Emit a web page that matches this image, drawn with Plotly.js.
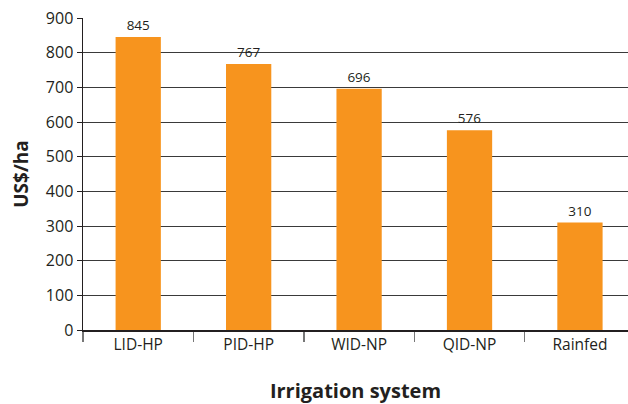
<!DOCTYPE html>
<html><head><meta charset="utf-8">
<script src="https://cdn.plot.ly/plotly-3.0.1.min.js"></script>
<style>html,body{margin:0;padding:0;background:#fff;}#chart{width:628px;height:404px;}</style>
</head><body><div id="chart"></div>
<script>
const categories = ["LID-HP", "PID-HP", "WID-NP", "QID-NP", "Rainfed"];
const values = [845, 767, 696, 576, 310];
const yTicks = [0, 100, 200, 300, 400, 500, 600, 700, 800, 900];

const trace = {
  type: "bar",
  x: categories,
  y: values,
  width: 0.41,
  marker: {color: "#F7941E"},
  text: values.map(String),
  textposition: "outside",
  cliponaxis: false,
  textfont: {family: "Open Sans, sans-serif", size: 13.5, color: "#231F20"},
  hoverinfo: "none"
};

const layout = {
  width: 628, height: 404,
  margin: {l: 83, r: 0, t: 18, b: 74},
  paper_bgcolor: "#fff", plot_bgcolor: "#fff",
  showlegend: false,
  font: {family: "Open Sans, sans-serif", color: "#231F20"},
  xaxis: {
    type: "category",
    range: [-0.5, 4.435],
    showline: true, linecolor: "#231F20", linewidth: 1.5,
    ticks: "outside", tickson: "boundaries", ticklen: 10, tickcolor: "#777", tickwidth: 1.5,
    tickfont: {size: 15.5, color: "#231F20"},
    showgrid: false,
    title: {text: "<b>Irrigation system</b>", font: {size: 20, color: "#231F20"}, standoff: 31}
  },
  yaxis: {
    range: [0, 900],
    tickvals: yTicks,
    showline: true, linecolor: "#231F20", linewidth: 1.5,
    ticks: "outside", ticklen: 5, tickcolor: "#231F20", tickwidth: 1,
    tickfont: {size: 16, color: "#231F20"},
    showgrid: true, gridcolor: "#3a3a3a", gridwidth: 1,
    zeroline: false,
    title: {text: "<b>US$/ha</b>", font: {size: 19, color: "#231F20"}, standoff: 12}
  }
};

Plotly.newPlot("chart", [trace], layout, {displayModeBar: false, staticPlot: true});
</script></body></html>
